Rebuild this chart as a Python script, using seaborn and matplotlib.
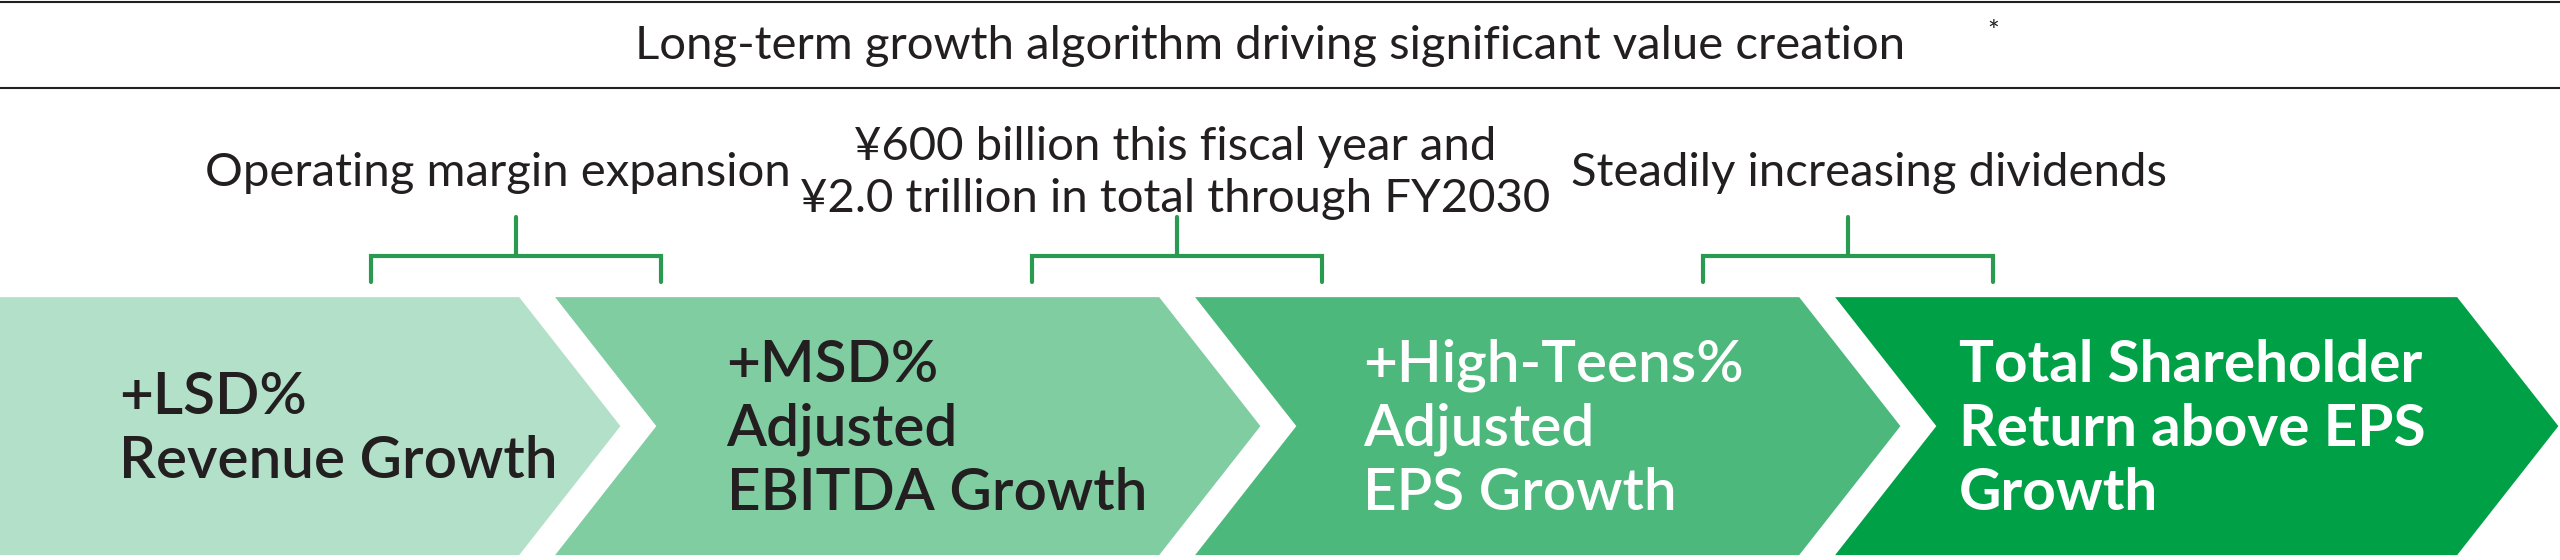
import matplotlib
matplotlib.use("Agg")
import matplotlib.pyplot as plt
import seaborn as sns
from matplotlib.patches import Polygon

sns.set_theme(style="white")
plt.rcParams['font.family'] = ['Lato', 'DejaVu Sans']

title = "Long-term growth algorithm driving significant value creation"
stage_labels = ["+LSD%\nRevenue Growth", "+MSD%\nAdjusted\nEBITDA Growth",
                "+High-Teens%\nAdjusted\nEPS Growth", "Total Shareholder\nReturn above EPS\nGrowth"]
stage_colors = ["#b3e0c9", "#80cda2", "#4db87c", "#00a046"]
stage_text_colors = ["#231f20", "#231f20", "white", "white"]
stage_weights = ["semibold", "semibold", "semibold", "bold"]
bracket_labels = ["Operating margin expansion",
                  "¥600 billion this fiscal year and\n¥2.0 trillion in total through FY2030",
                  "Steadily increasing dividends"]

fig = plt.figure(figsize=(25.6, 5.6), dpi=100)
ax = fig.add_axes([0, 0, 1, 1])
ax.set_xlim(0, 1568); ax.set_ylim(343, 0); ax.axis("off")

# title band
ax.plot([0, 1568], [1, 1], color="#231f20", lw=1.5)
ax.plot([0, 1568], [54, 54], color="#231f20", lw=1.5)
ax.text(778, 28, title, ha="center", va="center", fontsize=34, color="#231f20")
ax.text(1217, 20, "*", ha="left", va="center", fontsize=20, color="#231f20")

top, bot, mid = 182, 340, 261
step, notch, tipw = 392, 62, 62
for i, (lab, c, tc, w) in enumerate(zip(stage_labels, stage_colors, stage_text_colors, stage_weights)):
    x0 = i * step
    xr = x0 + 318 if i < 3 else 1505
    if i == 0:
        pts = [(0, top), (xr, top), (xr + tipw, mid), (xr, bot), (0, bot)]
    else:
        x0 = x0 - 52
        pts = [(x0, top), (xr, top), (xr + tipw, mid), (xr, bot), (x0, bot), (x0 + notch, mid)]
    ax.add_patch(Polygon(pts, closed=True, color=c, lw=0))
    tx = [73, 445, 835, 1200][i]
    ax.text(tx, mid + 2, lab, ha="left", va="center", fontsize=42, color=tc,
            fontweight=w, linespacing=1.25)

gcol = "#2a9a50"
for j, lab in enumerate(bracket_labels):
    xl = [227, 632, 1043][j]; xr = xl + 178; xm = (xl + xr) / 2
    ax.plot([xl, xl, xr, xr], [173, 157, 157, 173], color=gcol, lw=3, solid_joinstyle="miter")
    ax.plot([xm, xm], [157, 133], color=gcol, lw=3)
    ax.text([305, 720, 1145][j], 106, lab, ha="center", va="center", fontsize=34,
            color="#231f20", linespacing=1.3)

fig.savefig("out.png", dpi=100)
